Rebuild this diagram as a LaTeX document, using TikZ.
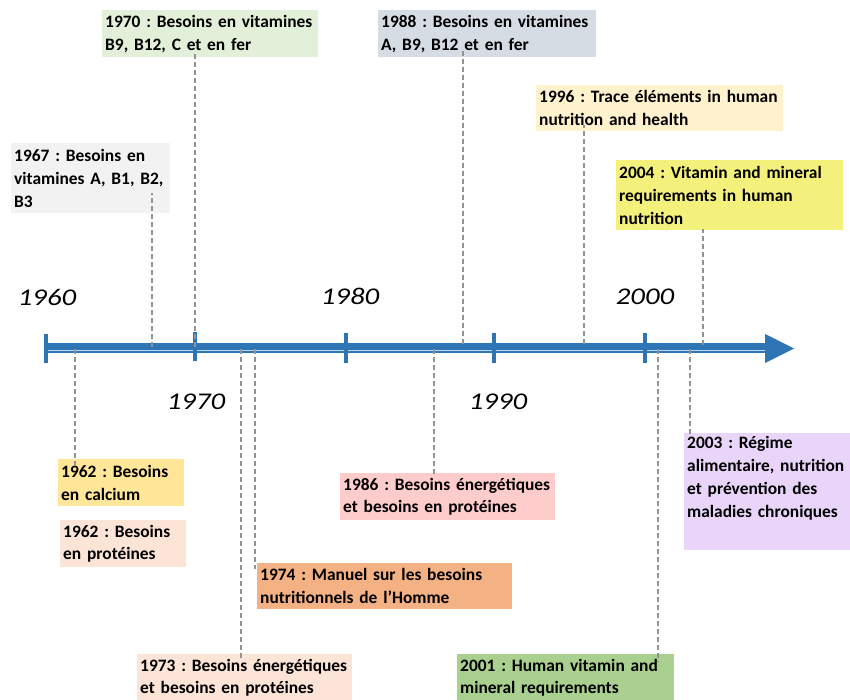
\documentclass[tikz,border=0pt]{standalone}
\usepackage{fontspec}
\setmainfont{Carlito}
\usepackage{tikz}

\definecolor{axisblue}{HTML}{2E75B6}
\definecolor{stripe}{HTML}{BDD7EE}
\definecolor{c67}{HTML}{F2F2F2}
\definecolor{c70}{HTML}{E2EFD9}
\definecolor{c88}{HTML}{D6DCE4}
\definecolor{c96}{HTML}{FFF2CC}
\definecolor{c04}{HTML}{F3F17C}
\definecolor{c62a}{HTML}{FFE699}
\definecolor{c62b}{HTML}{FCE4D6}
\definecolor{c86}{HTML}{FFCCCC}
\definecolor{c74}{HTML}{F4B183}
\definecolor{c73}{HTML}{FCE4D6}
\definecolor{c01}{HTML}{A9D08E}
\definecolor{c03}{HTML}{E8D5F9}

\newcommand{\evfont}{\fontsize{17.4}{22.8}\selectfont\bfseries\hyphenpenalty=10000 }

\begin{document}
\frenchspacing
\begin{tikzpicture}[x=1pt,y=-1pt,
  box/.style={anchor=north west,inner xsep=3pt,inner ysep=0pt,align=left,
    font=\evfont},
  year/.style={font=\fontsize{24}{24}\selectfont\itshape,xscale=1.2},
  tick/.style={axisblue,line width=3.5pt},
  lead/.style={gray!85,line width=2pt,dash pattern=on 5pt off 3pt}]
\useasboundingbox (0,0) rectangle (850,700);

% axis
\coordinate (a0) at (45,348);
\coordinate (a1) at (766,348);
\draw[axisblue,line width=10pt] (a0) -- (a1);
\draw[stripe,line width=1.5pt] (48,350.5) -- (766,350.5);
\fill[axisblue] (765,334) -- (794,348.5) -- (765,363) -- cycle;
\draw[tick] (46,334) -- (46,363);
\draw[tick] (195,332) -- (195,361);
\draw[tick] (346,333) -- (346,363);
\draw[tick] (494,333) -- (494,363);
\draw[tick] (645,333) -- (645,363);

% years
\node[year] (y60) at (47,297) {1960};
\node[year] (y80) at (350,296) {1980};
\node[year] (y00) at (645,297) {2000};
\node[year] (y70) at (196,402) {1970};
\node[year] (y90) at (498,402) {1990};

% events above
\node[box,fill=c67,text width=153pt,minimum height=70pt] (b67) at (11,143)
  {1967 : Besoins en\\vitamines A, B1, B2,\\B3};
\node[box,fill=c70,text width=210pt,minimum height=47pt] (b70) at (102,10)
  {1970 : Besoins en vitamines\\B9, B12, C et en fer};
\node[box,fill=c88,text width=212pt,minimum height=47pt] (b88) at (378,10)
  {1988 : Besoins en vitamines\\A, B9, B12 et en fer};
\node[box,fill=c96,text width=241pt,minimum height=46pt] (b96) at (536,85)
  {1996 : Trace éléments in human\\nutrition and health};
\node[box,fill=c04,text width=221pt,minimum height=70pt] (b04) at (616,160)
  {2004 : Vitamin and mineral\\requirements in human\\nutrition};

% events below
\node[box,fill=c62a,text width=120pt,minimum height=47pt] (b62a) at (58,459)
  {1962 : Besoins\\en calcium};
\node[box,fill=c62b,text width=120pt,minimum height=47pt] (b62b) at (60,520)
  {1962 : Besoins\\en protéines};
\node[box,fill=c86,text width=209pt,minimum height=47pt] (b86) at (340,473)
  {1986 : Besoins énergétiques\\et besoins en protéines};
\node[box,fill=c74,text width=249pt,minimum height=46pt] (b74) at (257,563)
  {1974 : Manuel sur les besoins\\nutritionnels de l’Homme};
\node[box,fill=c73,text width=209pt,minimum height=47pt] (b73) at (137,654)
  {1973 : Besoins énergétiques\\et besoins en protéines};
\node[box,fill=c01,text width=211pt,minimum height=47pt] (b01) at (457,654)
  {2001 : Human vitamin and\\mineral requirements};
\node[box,fill=c03,text width=166pt,minimum height=117pt] (b03) at (684,433)
  {2003 : Régime\\alimentaire, nutrition\\et prévention des\\maladies chroniques\\\strut};

% leaders
\coordinate (t67) at (152,347);
\coordinate (t70) at (195,347);
\coordinate (t88) at (463,344);
\coordinate (t96) at (584,344);
\coordinate (t04) at (703,345);
\coordinate (t62) at (75,349);
\coordinate (t73) at (241,349);
\coordinate (t74) at (255,349);
\coordinate (t86) at (434,349);
\coordinate (t01) at (658,349);
\coordinate (t03) at (690,349);
\draw[lead] (t67) -- ([yshift=20pt]t67 |- b67.south);
\draw[lead] (t70) -- ([yshift=6pt]t70 |- b70.south);
\draw[lead] (t88) -- ([yshift=6pt]t88 |- b88.south);
\draw[lead] (t96) -- ([yshift=6pt]t96 |- b96.south);
\draw[lead] (t04) -- ([yshift=1pt]t04 |- b04.south);
\draw[lead] (t62) -- ([yshift=-6pt]t62 |- b62a.north);
\draw[lead] (t73) -- ([yshift=-6pt]t73 |- b73.north);
\draw[lead] (t74) -- ([yshift=-6pt]t74 |- b74.north);
\draw[lead] (t86) -- ([yshift=-1pt]t86 |- b86.north);
\draw[lead] (t01) -- ([yshift=-8pt]t01 |- b01.north);
\draw[lead] (t03) -- ([yshift=-1pt]t03 |- b03.north);
\end{tikzpicture}
\end{document}
